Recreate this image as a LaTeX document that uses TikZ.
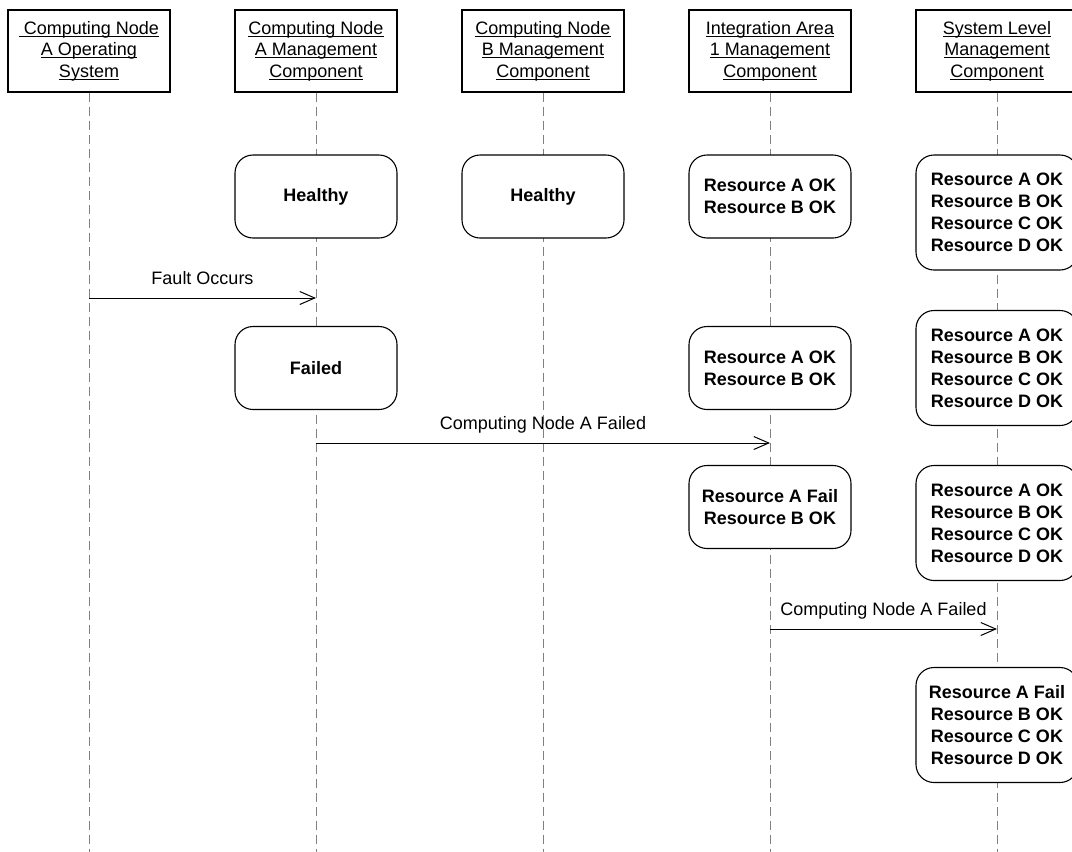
\documentclass[tikz,border=0pt]{standalone}
\usepackage{fontspec}
\setmainfont{Liberation Sans}
\usetikzlibrary{arrows.meta}
% underline set close under the baseline, crossing descenders
\newcommand\ulin[1]{\setbox0=\hbox{#1}\rlap{\copy0}\rule[-2.6pt]{\wd0}{1.1pt}}
\definecolor{lifegray}{RGB}{128,128,128}
\begin{document}
\begin{tikzpicture}[x=1pt,y=-1pt,
  headbox/.style={draw,line width=1.3pt,minimum width=162pt,minimum height=82pt,
    align=center,inner sep=0pt,fill=white,font=\fontsize{18}{21.6}\selectfont},
  statebox/.style={draw,line width=1.1pt,rounded corners=18pt,minimum width=162pt,
    minimum height=83pt,align=center,inner sep=0pt,fill=white,
    font=\fontsize{18}{22}\selectfont\bfseries},
  tallbox/.style={statebox,minimum height=115pt},
  lifeline/.style={draw=lifegray,line width=1pt,dash pattern=on 9pt off 5pt},
  msg/.style={line width=1pt,-{Straight Barb[length=15pt,width=13pt]}},
  msgtext/.style={midway,anchor=base,yshift=14pt,inner sep=0pt,
    font=\fontsize{18}{21.6}\selectfont}]
\useasboundingbox (0,0) rectangle (1072,852);

% participants
\node[headbox] (h1) at (89,51)  {\ulin{ Computing Node}\\\ulin{A Operating}\\\ulin{System}};
\node[headbox] (h2) at (316,51) {\ulin{Computing Node}\\\ulin{A Management}\\\ulin{Component}};
\node[headbox] (h3) at (543,51) {\ulin{Computing Node}\\\ulin{B Management}\\\ulin{Component}};
\node[headbox] (h4) at (770,51) {\ulin{Integration Area}\\\ulin{1 Management}\\\ulin{Component}};
\node[headbox] (h5) at (997,51) {\ulin{System Level}\\\ulin{Management}\\\ulin{Component}};

% lifeline ends
\coordinate (e1) at (89,852);
\coordinate (e2) at (316,852);
\coordinate (e3) at (543,852);
\coordinate (e4) at (770,852);
\coordinate (e5) at (997,852);
\foreach \i in {1,...,5} {\draw[lifeline] (h\i.south) -- (e\i);}

% states, first row
\node[statebox] (a1) at (316,196.5) {Healthy};
\node[statebox] (b1) at (543,196.5) {Healthy};
\node[statebox] (i1) at (770,196.5) {Resource A OK\\Resource B OK};
\node[tallbox]  (s1) at (997,212.5) {Resource A OK\\Resource B OK\\Resource C OK\\Resource D OK};

% states, second row
\node[statebox] (a2) at (316,368) {Failed};
\node[statebox] (i2) at (770,368) {Resource A OK\\Resource B OK};
\node[tallbox]  (s2) at (997,368) {Resource A OK\\Resource B OK\\Resource C OK\\Resource D OK};

% states, third row
\node[statebox] (i3) at (770,507) {Resource A Fail\\Resource B OK};
\node[tallbox]  (s3) at (997,523) {Resource A OK\\Resource B OK\\Resource C OK\\Resource D OK};

% states, fourth row
\node[tallbox]  (s4) at (997,725) {Resource A Fail\\Resource B OK\\Resource C OK\\Resource D OK};

% message end points on the lifelines
\coordinate (m1s) at (89,298);
\coordinate (m1e) at (316,298);
\coordinate (m2s) at (316,443);
\coordinate (m2e) at (770,443);
\coordinate (m3s) at (770,629);
\coordinate (m3e) at (997,629);

\draw[msg] (m1s) -- (m1e) node[msgtext] {Fault Occurs};
\draw[msg] (m2s) -- (m2e) node[msgtext] {Computing Node A Failed};
\draw[msg] (m3s) -- (m3e) node[msgtext] {Computing Node A Failed};
\end{tikzpicture}
\end{document}
